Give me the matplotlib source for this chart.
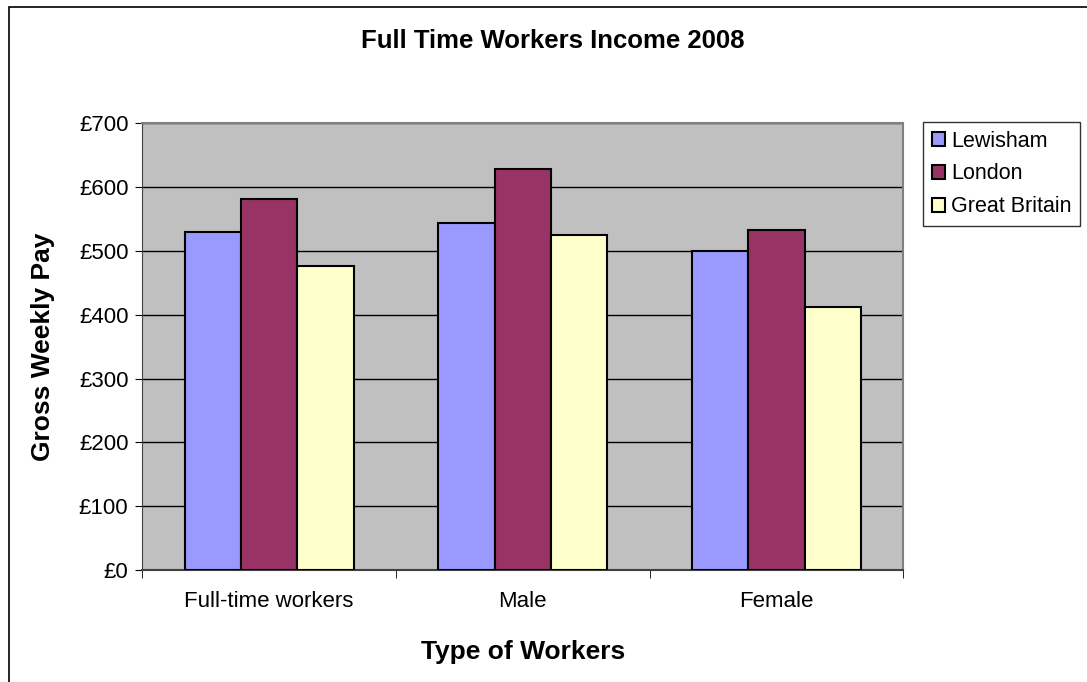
import numpy as np
import matplotlib.pyplot as plt
from matplotlib.patches import Rectangle

CATEGORIES = ['Full-time workers', 'Male', 'Female']
LEWISHAM = [530, 544, 500]
LONDON = [581, 629, 533]
GREAT_BRITAIN = [477, 525, 412]
SERIES = ['Lewisham', 'London', 'Great Britain']
COLORS = ['#9999FF', '#993366', '#FFFFCC']
Y_TICKS = [0, 100, 200, 300, 400, 500, 600, 700]

plt.rcParams['font.family'] = ['Liberation Sans', 'DejaVu Sans']


def main():
    fig = plt.figure(figsize=(10.87, 6.82), dpi=100)
    ax = fig.add_axes([0.1309, 0.1642, 0.7001, 0.655])

    # outer chart border
    fig.patches.append(Rectangle((9 / 1087, -0.1), 1.2, 1.1 - 7 / 682,
                                 transform=fig.transFigure, fill=False,
                                 edgecolor='black', linewidth=1.2))

    ax.set_facecolor('#C0C0C0')
    x = np.arange(len(CATEGORIES))
    width = 2 / 9
    for i, (vals, name, col) in enumerate(zip([LEWISHAM, LONDON, GREAT_BRITAIN], SERIES, COLORS)):
        ax.bar(x + (i - 1) * width, vals, width, color=col, edgecolor='black',
               linewidth=1.5, label=name, zorder=3)

    ax.set_xlim(-0.5, 2.5)
    ax.set_ylim(0, 700)
    ax.set_yticks(Y_TICKS)
    ax.set_yticklabels(['£%d' % v for v in Y_TICKS], fontsize=16)
    ax.yaxis.grid(True, color='black', linewidth=1, zorder=1)
    ax.set_axisbelow(True)

    ax.set_xticks(x)
    ax.set_xticklabels(CATEGORIES, fontsize=16)
    ax.tick_params(axis='x', which='major', length=0, pad=15)
    ax.set_xticks([-0.5, 0.5, 1.5, 2.5], minor=True)
    ax.tick_params(axis='x', which='minor', length=6, color='black', direction='out')
    ax.tick_params(axis='y', length=5, color='black', direction='out', pad=5)

    ax.spines['top'].set_color('#808080')
    ax.spines['top'].set_linewidth(1.5)
    ax.spines['right'].set_color('#808080')
    ax.spines['right'].set_linewidth(1.5)
    ax.spines['left'].set_color('#404040')
    ax.spines['bottom'].set_color('#404040')
    ax.spines['bottom'].set_linewidth(1.5)

    ax.set_ylabel('Gross Weekly Pay', fontsize=19, fontweight='bold', labelpad=17)
    ax.set_xlabel('Type of Workers', fontsize=19, fontweight='bold', labelpad=20)
    fig.text(553 / 1087, 1 - 41 / 682, 'Full Time Workers Income 2008',
             fontsize=18.5, fontweight='bold', ha='center', va='center')

    leg = fig.legend(loc='upper left', bbox_to_anchor=(923 / 1087, 1 - 122 / 682),
                     fontsize=15.5, frameon=True, fancybox=False, edgecolor='black',
                     handlelength=0.6, handleheight=0.6, handletextpad=0.3,
                     borderpad=0.4, labelspacing=0.55, borderaxespad=0)
    leg.get_frame().set_linewidth(1)

    plt.savefig('out.png', dpi=100)


if __name__ == '__main__':
    main()
